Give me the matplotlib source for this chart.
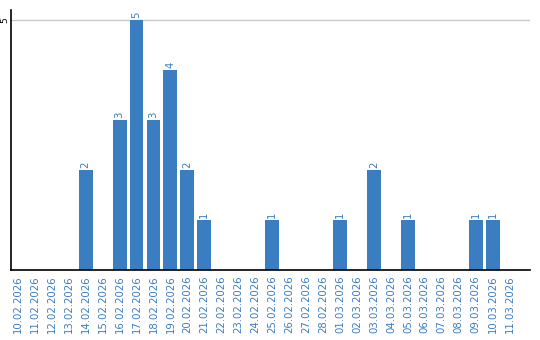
import matplotlib
matplotlib.use("Agg")
import matplotlib.pyplot as plt

dates = ["10.02.2026", "11.02.2026", "12.02.2026", "13.02.2026", "14.02.2026",
         "15.02.2026", "16.02.2026", "17.02.2026", "18.02.2026", "19.02.2026",
         "20.02.2026", "21.02.2026", "22.02.2026", "23.02.2026", "24.02.2026",
         "25.02.2026", "26.02.2026", "27.02.2026", "28.02.2026", "01.03.2026",
         "02.03.2026", "03.03.2026", "04.03.2026", "05.03.2026", "06.03.2026",
         "07.03.2026", "08.03.2026", "09.03.2026", "10.03.2026", "11.03.2026"]
counts = [0, 0, 0, 0, 2, 0, 3, 5, 3, 4, 2, 1, 0, 0, 0,
          1, 0, 0, 0, 1, 0, 2, 0, 1, 0, 0, 0, 1, 1, 0]

bar_color = "#3b7dc1"
text_color = "#3b7dc1"

fig = plt.figure(figsize=(5.4, 3.4), dpi=100)
ax = fig.add_axes([11/540, 1 - 270/340, (530 - 11)/540, (270 - 10)/340])

x = list(range(len(dates)))
ax.bar(x, counts, width=0.82, color=bar_color, zorder=2)

for xi, v in zip(x, counts):
    if v > 0:
        ax.text(xi, v + 0.04, str(v), rotation=90, ha="center", va="bottom",
                fontsize=7.3, color=text_color)

ax.set_xlim(-0.4, 30.2)
ax.set_ylim(0, 5.2)
ax.set_xticks(x)
ax.set_xticklabels(dates, rotation=90, fontsize=7.3, color=text_color)
ax.set_yticks([5])
ax.set_yticklabels(["5"], rotation=90, fontsize=6.5, color="black", va="center")
ax.tick_params(axis="x", length=0, pad=4)
ax.tick_params(axis="y", length=0, pad=1)
ax.yaxis.grid(True, color="#c8c8c8", linewidth=1, zorder=0)
ax.set_axisbelow(True)

for s in ["top", "right"]:
    ax.spines[s].set_visible(False)
ax.spines["left"].set_color("black")
ax.spines["bottom"].set_color("black")
ax.spines["left"].set_linewidth(1.2)
ax.spines["bottom"].set_linewidth(1.2)

fig.savefig("out.png", dpi=100)
